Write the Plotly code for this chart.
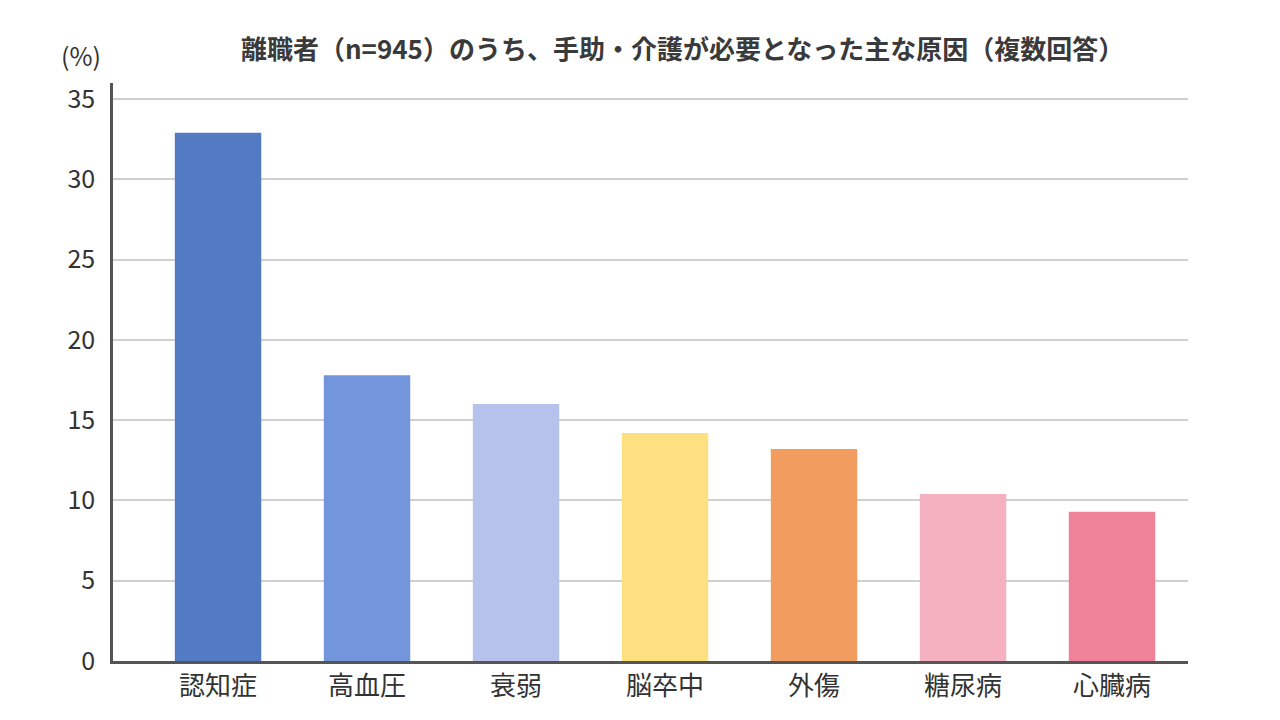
import plotly.graph_objects as go

categories = ['認知症', '高血圧', '衰弱', '脳卒中', '外傷', '糖尿病', '心臓病']
values = [32.9, 17.8, 16.0, 14.2, 13.2, 10.4, 9.3]
bar_colors = ['#537bc4', '#7395dc', '#b6c2ec', '#fde07f', '#f39c5f', '#f5b1c0', '#ef8299']
y_ticks = [0, 5, 10, 15, 20, 25, 30, 35]

font_family = 'Noto Sans CJK JP'

fig = go.Figure(go.Bar(
    x=categories,
    y=values,
    marker=dict(color=bar_colors, line=dict(width=0)),
    width=0.58,
))

# page body has an 8px margin, so margins are shifted by -8
fig.update_layout(
    width=1280, height=720,
    margin=dict(l=105, r=100, t=75, b=67),
    paper_bgcolor='white', plot_bgcolor='white',
    showlegend=False,
    font=dict(family=font_family, color='#333333', size=24),
    title=dict(text='離職者（n=945）のうち、手助・介護が必要となった主な原因（複数回答）',
               x=0.527, xanchor='center', y=0.942, yanchor='middle',
               font=dict(size=26, color='#3a3a3a', weight=600)),
)
fig.update_xaxes(
    range=[-0.705, 6.51],
    showline=True, linecolor='#555555', linewidth=2.5,
    showgrid=False, ticks='',
    tickfont=dict(size=26, color='#333333'),
)
fig.update_yaxes(
    range=[0, 36], tickvals=y_ticks,
    showline=True, linecolor='#555555', linewidth=2.5,
    showgrid=True, gridcolor='#d0d0d0', gridwidth=1.5,
    zeroline=False, ticks='', ticklabelstandoff=10,
    tickfont=dict(size=25, color='#333333'),
)
fig.add_annotation(text='(%)', xref='paper', yref='paper', x=-0.03, y=1.048,
                   xanchor='center', yanchor='middle', showarrow=False,
                   font=dict(size=25, color='#333333'))

fig.write_html('out.html')
